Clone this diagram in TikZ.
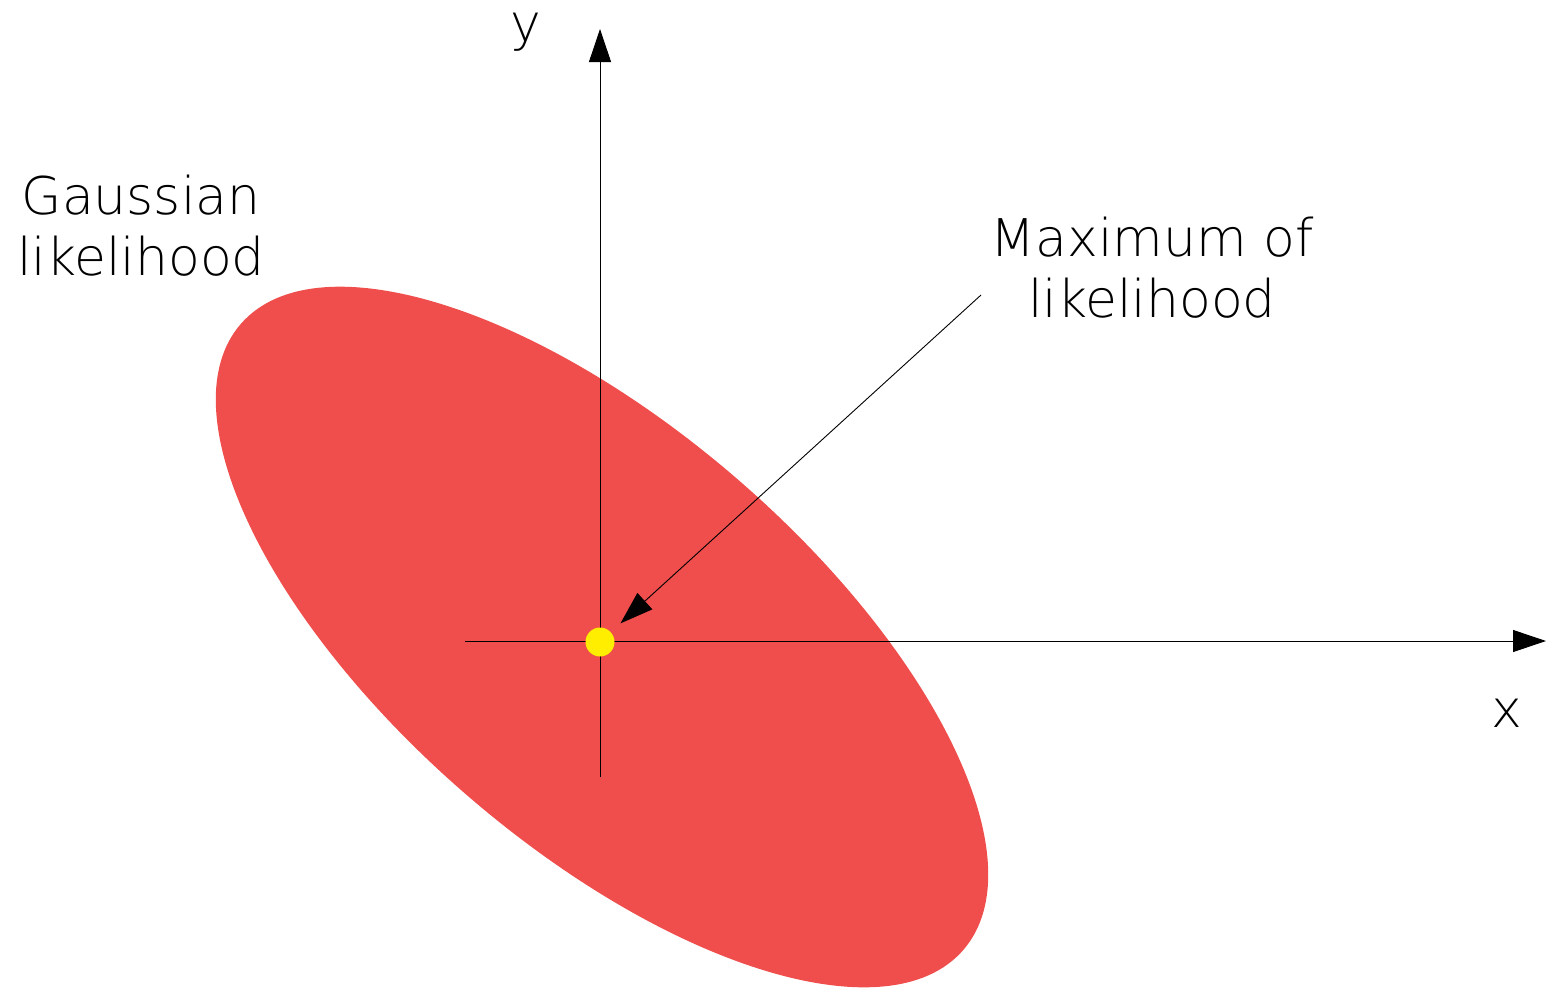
\documentclass[tikz,border=0pt]{standalone}
\usepackage{fontspec}
\newfontfamily\thinfont{DejaVu Sans ExtraLight}
\usetikzlibrary{shapes.geometric,arrows.meta}
\definecolor{ellred}{RGB}{239,78,76}
\definecolor{dotyellow}{RGB}{255,238,0}
\tikzset{
  axis/.style={line width=0.9pt, draw=black, -{Triangle[length=33pt,width=22pt]}},
  lbl/.style={font=\thinfont\fontsize{52}{61}\selectfont, align=center, inner sep=0pt},
}
\begin{document}
\begin{tikzpicture}[x=1pt,y=-1pt]
\useasboundingbox (0,0) rectangle (1546,993);
\node[ellipse, fill=ellred, draw=none, inner sep=0pt, minimum width=956pt, minimum height=416pt, rotate=-40.9] (g) at (602,637) {};
\coordinate (xs) at (465,641);
\coordinate (xe) at (1546,641);
\coordinate (ys) at (600,777);
\coordinate (ye) at (600,29);
\draw[axis] (xs) -- (xe);
\draw[axis] (ys) -- (ye);
\node[circle, fill=dotyellow, inner sep=0pt, minimum size=29pt] (dot) at (600,642) {};
\coordinate (as) at (981,295);
\draw[axis, shorten >=13pt] (as) -- (dot);
\node[lbl, anchor=base] (gl) at (141,275) {Gaussian\\likelihood};
\node[lbl, anchor=base] (ml) at (1152,317) {Maximum of\\likelihood};
\node[lbl, anchor=base] (yl) at (526,41) {y};
\node[lbl, anchor=base] (xl) at (1507,727) {x};
\end{tikzpicture}
\end{document}
